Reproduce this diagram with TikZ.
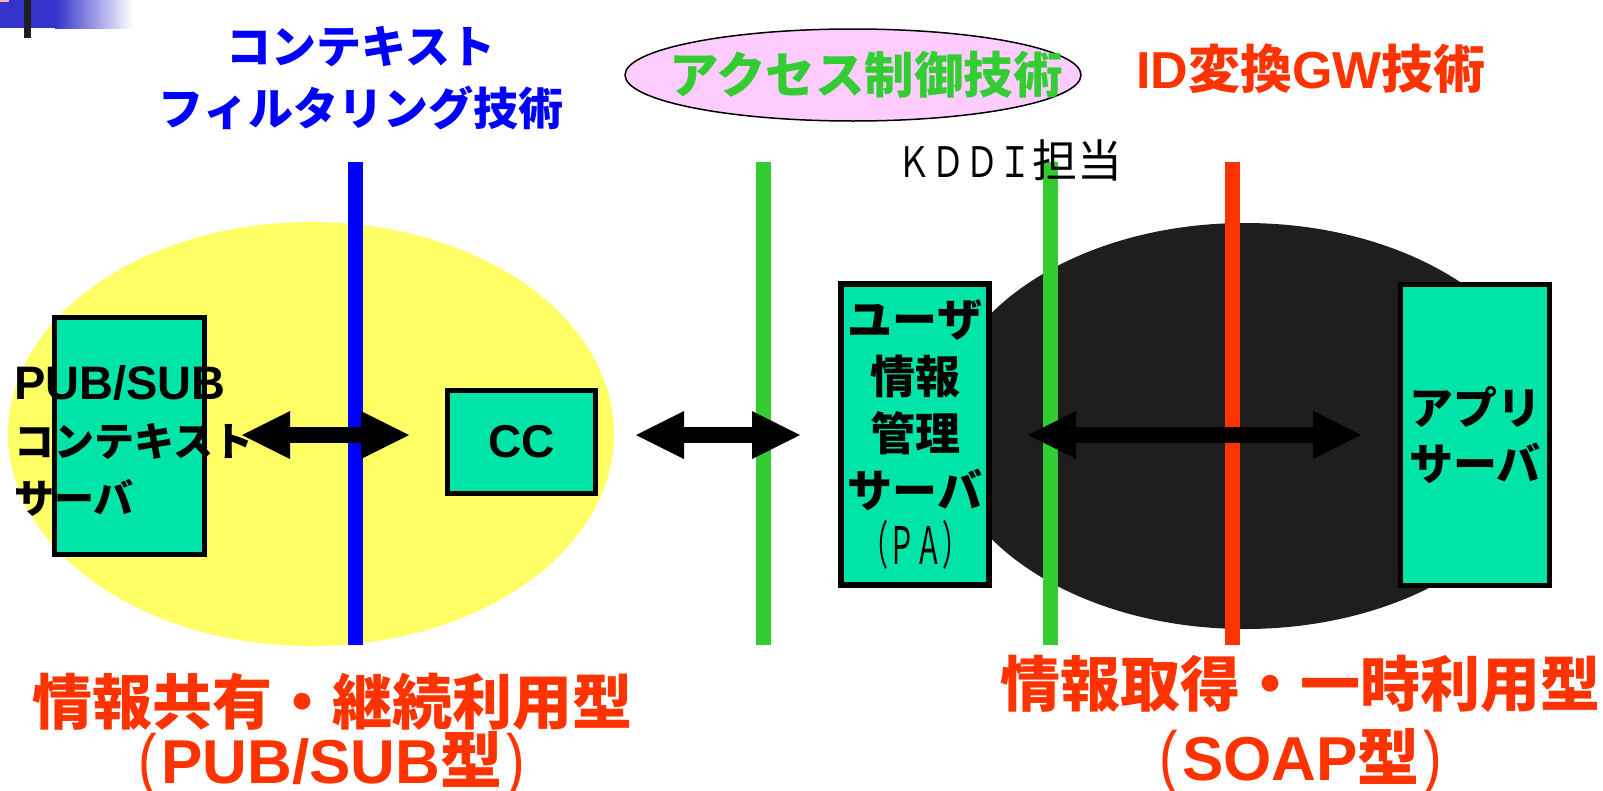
\documentclass[tikz,border=0pt]{standalone}
\usepackage{fontspec}
\usepackage{graphicx}
\setmainfont{Liberation Sans}
\newfontfamily\jp{Noto Sans CJK JP}
\usetikzlibrary{arrows.meta,shapes.geometric}
\definecolor{boxfill}{RGB}{0,228,168}
\definecolor{ttlblue}{RGB}{0,0,255}
\definecolor{ttlgreen}{RGB}{51,204,51}
\definecolor{ttlred}{RGB}{255,51,0}
\definecolor{pinkfill}{RGB}{255,204,255}
\definecolor{yell}{RGB}{255,255,102}
\definecolor{darkell}{RGB}{30,30,30}
\definecolor{barblue}{RGB}{51,51,204}
\definecolor{pinkcorner}{RGB}{255,176,192}
\newcommand{\tallparen}[1]{{\mdseries\scalebox{0.9}[1.12]{#1}}}
\tikzset{
  srvbox/.style={draw=black, line width=5pt, fill=boxfill, inner sep=0pt, align=center},
  sepline/.style={line width=15pt},
  fatarrow/.style={line width=16pt, {Triangle[length=48pt,width=48pt,line width=0pt]}-{Triangle[length=48pt,width=48pt,line width=0pt]}},
  bigred/.style={text=ttlred, inner sep=0pt},
}
\begin{document}
\begin{tikzpicture}[x=1pt,y=-1pt]
\useasboundingbox (0,0) rectangle (1603,790);
% corner mark
\fill[barblue] (0,0) rectangle (55,28);
\shade[left color=barblue,right color=white] (55,0) rectangle (133,28);
\fill[pinkcorner] (0,0) rectangle (9,2);
\fill[black!88] (24,0) rectangle (31,38);

% ellipses
\fill[yell] (311,434) ellipse [x radius=303pt, y radius=212pt];
\fill[darkell] (1245,426) ellipse [x radius=305pt, y radius=203pt];
\node[ellipse, draw=black, line width=1.5pt, fill=pinkfill, minimum width=456pt, minimum height=92pt, inner sep=0pt] (accell) at (853,75) {};

% separator lines
\coordinate (bT) at (355.5,162); \coordinate (bB) at (355.5,645);
\coordinate (g1T) at (763,162); \coordinate (g1B) at (763,645);
\coordinate (g2T) at (1050.5,162); \coordinate (g2B) at (1050.5,645);
\coordinate (rT) at (1232.5,162); \coordinate (rB) at (1232.5,645);
\draw[sepline, ttlblue] (bT) -- (bB);
\draw[sepline, ttlgreen] (g1T) -- (g1B);
\draw[sepline, ttlgreen] (g2T) -- (g2B);
\draw[sepline, ttlred] (rT) -- (rB);

% boxes
\node[srvbox, minimum width=150pt, minimum height=237pt] (ps) at (129.5,436) {};
\node[srvbox, minimum width=148pt, minimum height=103pt, font=\bfseries\fontsize{46pt}{50pt}\selectfont] (cc) at (521.5,442) {CC};
\node[srvbox, line width=6pt, minimum width=148pt, minimum height=301pt, font=\jp\bfseries\fontsize{45pt}{57pt}\selectfont] (pa) at (915,434.5) {ユーザ\\情報\\管理\\サーバ\\{\mdseries\scalebox{0.6}[1.15]{（ＰＡ）}}};
\node[srvbox, minimum width=149pt, minimum height=301pt, font=\jp\bfseries\fontsize{44pt}{56pt}\selectfont] (app) at (1475,435) {アプリ\\サーバ};

% arrows
\coordinate (a1l) at (242,435); \coordinate (a1r) at (409,435);
\coordinate (a2l) at (636,435); \coordinate (a2r) at (800,435);
\coordinate (a3l) at (1028,435); \coordinate (a3r) at (1361,435);
\draw[fatarrow] (a1l) -- (a1r);
\draw[fatarrow] (a2l) -- (a2r);
\draw[fatarrow] (a3l) -- (a3r);

% texts
\node[anchor=west, align=left, inner sep=0pt, font=\jp\bfseries\fontsize{40pt}{57pt}\selectfont] (pstxt) at (14,441) {{\rmfamily\fontsize{47pt}{57pt}\selectfont PUB/SUB}\\コンテキスト\\サーバ};
\node[align=center, text=ttlblue, font=\jp\bfseries\fontsize{45pt}{62pt}\selectfont] (ttlctx) at (361,78) {コンテキスト\\フィルタリング技術};
\node[text=ttlgreen, font=\jp\bfseries\fontsize{49.5pt}{58pt}\selectfont] (ttlacc) at (866,75) {アクセス制御技術};
\node[bigred, anchor=base, font=\bfseries\fontsize{52pt}{58pt}\selectfont] (ttlid) at (1311,88) {ID{\jp 変換}GW{\jp 技術}};
\node[font=\jp\fontsize{42pt}{50pt}\selectfont] (kddi) at (1010,160) {\scalebox{0.8}[1]{ＫＤＤＩ}{\fontsize{45pt}{50pt}\selectfont 担当}};

\node[bigred, font=\jp\bfseries\fontsize{60pt}{60pt}\selectfont] (bl1) at (332,702) {情報共有・継続利用型};
\node[bigred, anchor=base, font=\bfseries\fontsize{62pt}{62pt}\selectfont] (bl2) at (332,783) {\tallparen{(}\hspace{4pt}PUB/SUB{\jp 型}\hspace{4pt}\tallparen{)}};
\node[bigred, font=\jp\bfseries\fontsize{60pt}{60pt}\selectfont] (br1) at (1300,684) {情報取得・一時利用型};
\node[bigred, anchor=base, font=\bfseries\fontsize{62pt}{62pt}\selectfont] (br2) at (1301,780) {\tallparen{(}\hspace{4pt}SOAP{\jp 型}\hspace{4pt}\tallparen{)}};
\end{tikzpicture}
\end{document}
